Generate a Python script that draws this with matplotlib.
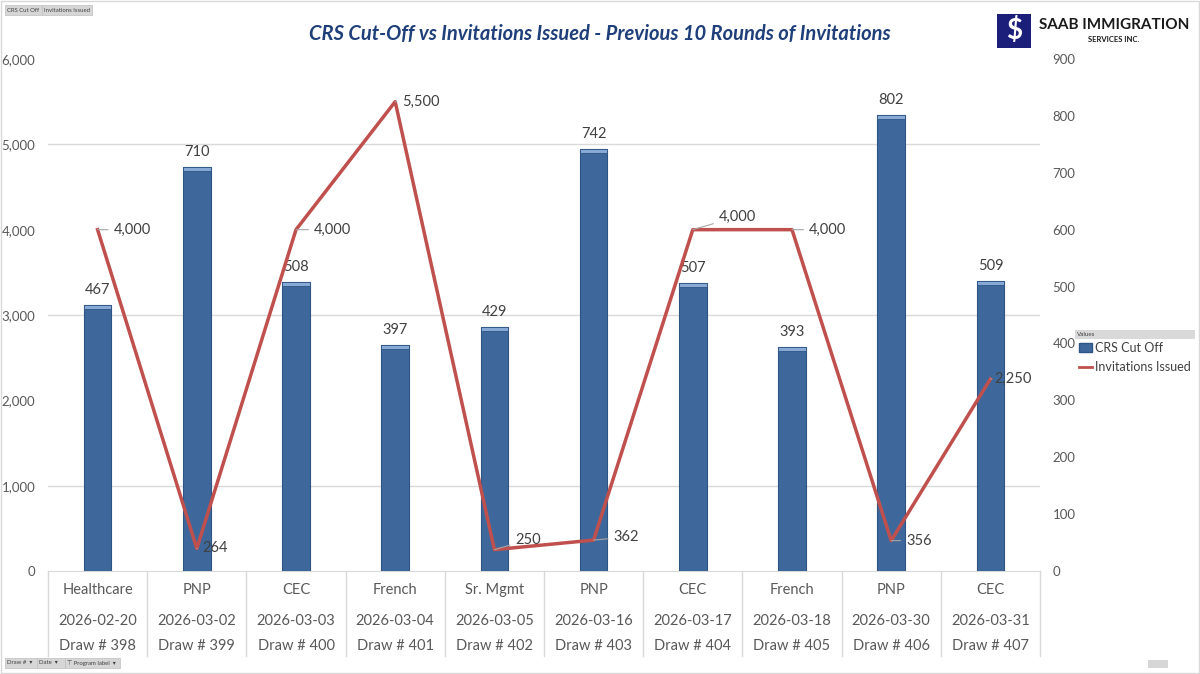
import numpy as np
import matplotlib.pyplot as plt
from matplotlib.patches import Rectangle
from matplotlib.lines import Line2D
from matplotlib.patches import Patch

plt.rcParams['font.family'] = ['Lato', 'DejaVu Sans']

# data
programs = ['Healthcare', 'PNP', 'CEC', 'French', 'Sr. Mgmt', 'PNP', 'CEC', 'French', 'PNP', 'CEC']
dates = ['2026-02-20', '2026-03-02', '2026-03-03', '2026-03-04', '2026-03-05',
         '2026-03-16', '2026-03-17', '2026-03-18', '2026-03-30', '2026-03-31']
draws = [398, 399, 400, 401, 402, 403, 404, 405, 406, 407]
crs_cutoff = [467, 710, 508, 397, 429, 742, 507, 393, 802, 509]
invitations = [4000, 264, 4000, 5500, 250, 362, 4000, 4000, 356, 2250]

# label offsets for the line labels (pixels)
inv_offsets = [(16, 0), (6, 0), (18, 0), (7, 0), (21, 10), (20, 3), (26, 13), (17, 0), (15, 0), (4, 0)]

grey_txt = '#595959'
bar_col = '#3E689C'
line_col = '#C0504D'
grid_col = '#D9D9D9'

fig = plt.figure(figsize=(12, 6.74), dpi=100)
ax = fig.add_axes([48 / 1200, 1 - 571 / 674, 992 / 1200, 512 / 674])
ax2 = ax.twinx()
x = np.arange(len(programs))

# bars - right axis
ax.set_xlim(-0.5, len(programs) - 0.5)
ax.set_ylim(0, 900)
ax.bar(x, crs_cutoff, width=0.28, color=bar_col, edgecolor='#2E5484', linewidth=0.8, zorder=3)
hl = 7
ax.bar(x, [hl] * len(x), bottom=np.array(crs_cutoff) - hl, width=0.28,
       color='#86A9D6', edgecolor='#2E5484', linewidth=0.6, zorder=4)
for xi, v in zip(x, crs_cutoff):
    ax.annotate(str(v), (xi, v), xytext=(0, 8), textcoords='offset pixels',
                ha='center', va='bottom', fontsize=10.5, color='#404040', zorder=5)

ax.yaxis.tick_right()
ax.set_yticks(np.arange(0, 901, 100))
ax.set_yticklabels([f'{v:,}' for v in range(0, 901, 100)])
grid_vals = np.arange(0, 6001, 1000) * 900 / 6000
ax.set_yticks(grid_vals, minor=True)
ax.grid(which='minor', axis='y', color=grid_col, linewidth=1, zorder=0)
ax.tick_params(axis='y', which='both', length=0, labelsize=9.5, labelcolor=grey_txt, pad=9,
               left=False, labelleft=False, right=True, labelright=True)
ax.tick_params(axis='y', which='minor', labelright=False)
ax.set_xticks([])
for s in ['top', 'right', 'left']:
    ax.spines[s].set_visible(False)
ax.spines['bottom'].set_color(grid_col)

# multi-level category labels
trans = ax.get_xaxis_transform()
for xi in x:
    ax.text(xi, -0.037, programs[xi], transform=trans, ha='center', va='center', fontsize=10.5, color=grey_txt)
    ax.text(xi, -0.098, dates[xi], transform=trans, ha='center', va='center', fontsize=10.5, color=grey_txt)
    ax.text(xi, -0.147, f'Draw # {draws[xi]}', transform=trans, ha='center', va='center', fontsize=10.5, color=grey_txt)
for b in np.arange(-0.5, len(programs), 1.0):
    ax.plot([b, b], [0, -0.166], transform=trans, color=grid_col, linewidth=1, clip_on=False)

# line - left axis
ax2.set_ylim(0, 6000)
ax2.plot(x, invitations, color=line_col, linewidth=2.5, zorder=3)
ax2.yaxis.tick_left()
ax2.set_yticks(np.arange(0, 6001, 1000))
ax2.set_yticklabels([f'{v:,}' for v in range(0, 6001, 1000)])
ax2.tick_params(axis='y', length=0, labelsize=9.5, labelcolor=grey_txt, pad=9,
                left=True, labelleft=True, right=False, labelright=False)
for s in ax2.spines.values():
    s.set_visible(False)
for xi, v, off in zip(x, invitations, inv_offsets):
    ax2.annotate(f'{v:,}', (xi, v), xytext=off, textcoords='offset pixels',
                 ha='left', va='center', fontsize=10.5, color='#404040',
                 arrowprops=dict(arrowstyle='-', color='#A6A6A6', linewidth=0.8,
                                 shrinkA=2, shrinkB=0))

# title
fig.text(0.5, 1 - 34 / 674, 'CRS Cut-Off vs Invitations Issued - Previous 10 Rounds of Invitations',
         ha='center', va='center', fontsize=14.5, fontweight='bold', style='italic', color='#1F3F7A')

# legend
handles = [Patch(facecolor=bar_col, edgecolor='#2E5484'),
           Line2D([0], [0], color=line_col, linewidth=2)]
fig.legend(handles, ['CRS Cut Off', 'Invitations Issued'], loc='upper left',
           bbox_to_anchor=(1076 / 1200, 1 - 339 / 674), frameon=False, fontsize=9,
           labelcolor='#404040', handlelength=1.1, handletextpad=0.2, labelspacing=0.6,
           borderaxespad=0, borderpad=0.2)
fig.patches.append(Rectangle((1075 / 1200, 1 - 339 / 674), 120 / 1200, 9 / 674,
                             transform=fig.transFigure, facecolor='#D9D9D9', edgecolor='none'))
fig.text(1077 / 1200, 1 - 334.5 / 674, 'Values', fontsize=4.5, color='#404040', va='center')

# pivot field buttons
def button(xp, yp, w, label):
    fig.patches.append(Rectangle((xp / 1200, 1 - (yp + 10) / 674), w / 1200, 10 / 674,
                                 transform=fig.transFigure, facecolor='#D6D6D6',
                                 edgecolor='#BFBFBF', linewidth=0.5))
    fig.text((xp + 2) / 1200, 1 - (yp + 5) / 674, label, fontsize=4.3, color='#404040', va='center')

button(5, 5, 37, 'CRS Cut Off')
button(42, 5, 50, 'Invitations Issued')
button(5, 658, 32, 'Draw #  \u25be')
button(37, 658, 28, 'Date  \u25be')
button(65, 658, 55, '\u22a4 Program label  \u25be')
fig.patches.append(Rectangle((1148 / 1200, 1 - 668 / 674), 20 / 1200, 8 / 674,
                             transform=fig.transFigure, facecolor='#D6D6D6', edgecolor='none'))

# logo
fig.patches.append(Rectangle((997 / 1200, 1 - 48 / 674), 34 / 1200, 34 / 674,
                             transform=fig.transFigure, facecolor='#1B1F7A', edgecolor='none'))
fig.text(1014 / 1200, 1 - 31 / 674, '$', ha='center', va='center', fontsize=20,
         fontweight='bold', color='white')
fig.text(1114 / 1200, 1 - 25 / 674, 'SAAB IMMIGRATION', ha='center', va='center',
         fontsize=11, fontweight='bold', color='#1A1A1A')
fig.text(1114 / 1200, 1 - 39 / 674, 'SERVICES INC.', ha='center', va='center',
         fontsize=5.5, fontweight='bold', color='#1A1A1A')

# chart border
fig.patches.append(Rectangle((0.001, 0.002), 0.998, 0.996, transform=fig.transFigure,
                             facecolor='none', edgecolor='#D9D9D9', linewidth=1))

fig.savefig('out.png', dpi=100)
